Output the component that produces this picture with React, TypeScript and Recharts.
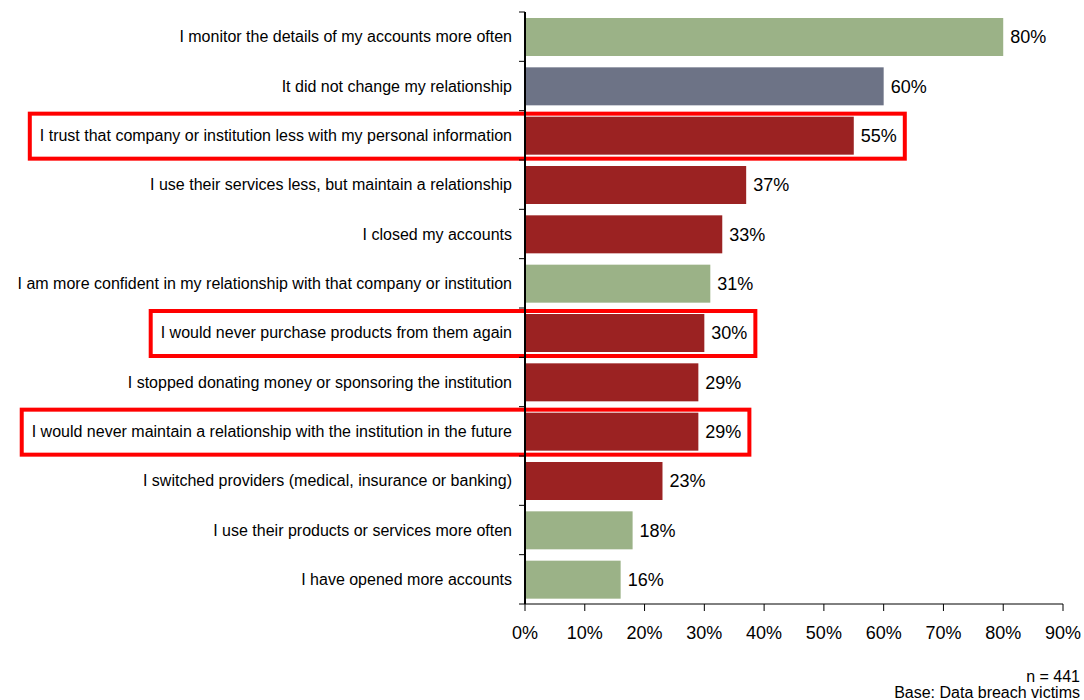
import { Bar, BarChart, LabelList, XAxis, YAxis } from "recharts";

const categories = [
  "I monitor the details of my accounts more often",
  "It did not change my relationship",
  "I trust that company or institution less with my personal information",
  "I use their services less, but maintain a relationship",
  "I closed my accounts",
  "I am more confident in my relationship with that company or institution",
  "I would never purchase products from them again",
  "I stopped donating money or sponsoring the institution",
  "I would never maintain a relationship with the institution in the future",
  "I switched providers (medical, insurance or banking)",
  "I use their products or services more often",
  "I have opened more accounts",
];
const shares = [80, 60, 55, 37, 33, 31, 30, 29, 29, 23, 18, 16];
const groups = [
  "positive", "neutral", "negative", "negative", "negative", "positive",
  "negative", "negative", "negative", "negative", "positive", "positive",
];
const highlighted = [categories[2], categories[6], categories[8]];
const xTicks = [0, 10, 20, 30, 40, 50, 60, 70, 80, 90];

const COLORS: Record<string, string> = {
  positive: "#9bb287",
  neutral: "#6d7386",
  negative: "#9b2222",
};

const FONT = '"Liberation Sans", Arial, sans-serif';
const W = 1084;
const H = 700;
const MARGIN = { top: 12, right: 21, bottom: 56, left: 0 };
const Y_AXIS_W = 525;
const X_AXIS_H = 40;
const TICK_SIZE = 6;
const TICK_GAP = 7;
const CAT_FONT = 16;
const VAL_FONT = 18;
const LABEL_OFFSET = 7;
const BAND = (H - MARGIN.top - MARGIN.bottom - X_AXIS_H) / categories.length;

const data = categories.map((name, i) => ({ name, share: shares[i], group: groups[i] }));

let ctx: CanvasRenderingContext2D | null = null;
function textWidth(text: string, size: number) {
  if (!ctx) ctx = document.createElement("canvas").getContext("2d");
  if (!ctx) return text.length * size * 0.5;
  ctx.font = `${size}px ${FONT}`;
  return ctx.measureText(text).width;
}

function CategoryTick(props: any) {
  const { x, y, payload, index } = props;
  const axisX = x + TICK_SIZE + TICK_GAP;
  const half = BAND / 2;
  return (
    <g>
      <line x1={axisX - TICK_SIZE} x2={axisX} y1={y - half} y2={y - half} stroke="#000" />
      {index === categories.length - 1 && (
        <line x1={axisX - TICK_SIZE} x2={axisX} y1={y + half} y2={y + half} stroke="#000" />
      )}
      <text x={x} y={y} dy="0.35em" textAnchor="end" fontSize={CAT_FONT} fontFamily={FONT} fill="#000">
        {payload.value}
      </text>
    </g>
  );
}

function BarShape(props: any) {
  const { x, y, width, height, payload } = props;
  const boxed = highlighted.includes(payload.name);
  let box = null;
  if (boxed) {
    const left = x - TICK_SIZE - TICK_GAP - textWidth(payload.name, CAT_FONT) - 10;
    const right = x + width + LABEL_OFFSET + textWidth(`${payload.share}%`, VAL_FONT) + 8;
    box = (
      <rect x={left} y={y - 3} width={right - left} height={height + 7} fill="none" stroke="#ff0000" strokeWidth={4} />
    );
  }
  return (
    <g>
      <rect x={x} y={y} width={width} height={height} fill={COLORS[payload.group]} />
      {box}
    </g>
  );
}

export default function App() {
  return (
    <div style={{ position: "absolute", left: 0, top: 0, width: W, height: H, background: "#fff", fontFamily: FONT }}>
      <BarChart width={W} height={H} data={data} layout="vertical" margin={MARGIN}>
        <XAxis
          type="number"
          domain={[0, 90]}
          ticks={xTicks}
          interval={0}
          height={X_AXIS_H}
          tickSize={7}
          tickMargin={15}
          tickFormatter={(v) => `${v}%`}
          tick={{ fontSize: VAL_FONT, fill: "#000", fontFamily: FONT }}
          axisLine={{ stroke: "#000" }}
          tickLine={{ stroke: "#000" }}
        />
        <YAxis
          type="category"
          dataKey="name"
          width={Y_AXIS_W}
          interval={0}
          tickSize={TICK_SIZE}
          tickMargin={TICK_GAP}
          tickLine={false}
          tick={<CategoryTick />}
          axisLine={{ stroke: "#000", strokeWidth: 2 }}
        />
        <Bar dataKey="share" barSize={38} shape={<BarShape />} isAnimationActive={false}>
          <LabelList
            dataKey="share"
            position="right"
            offset={LABEL_OFFSET}
            formatter={(v: any) => `${v}%`}
            style={{ fontSize: VAL_FONT, fill: "#000", fontFamily: FONT }}
          />
        </Bar>
      </BarChart>
      <div style={{ position: "absolute", right: 4, top: 669, fontSize: 16, lineHeight: "16px", textAlign: "right", color: "#000" }}>
        n = 441
        <br />
        Base: Data breach victims
      </div>
    </div>
  );
}
